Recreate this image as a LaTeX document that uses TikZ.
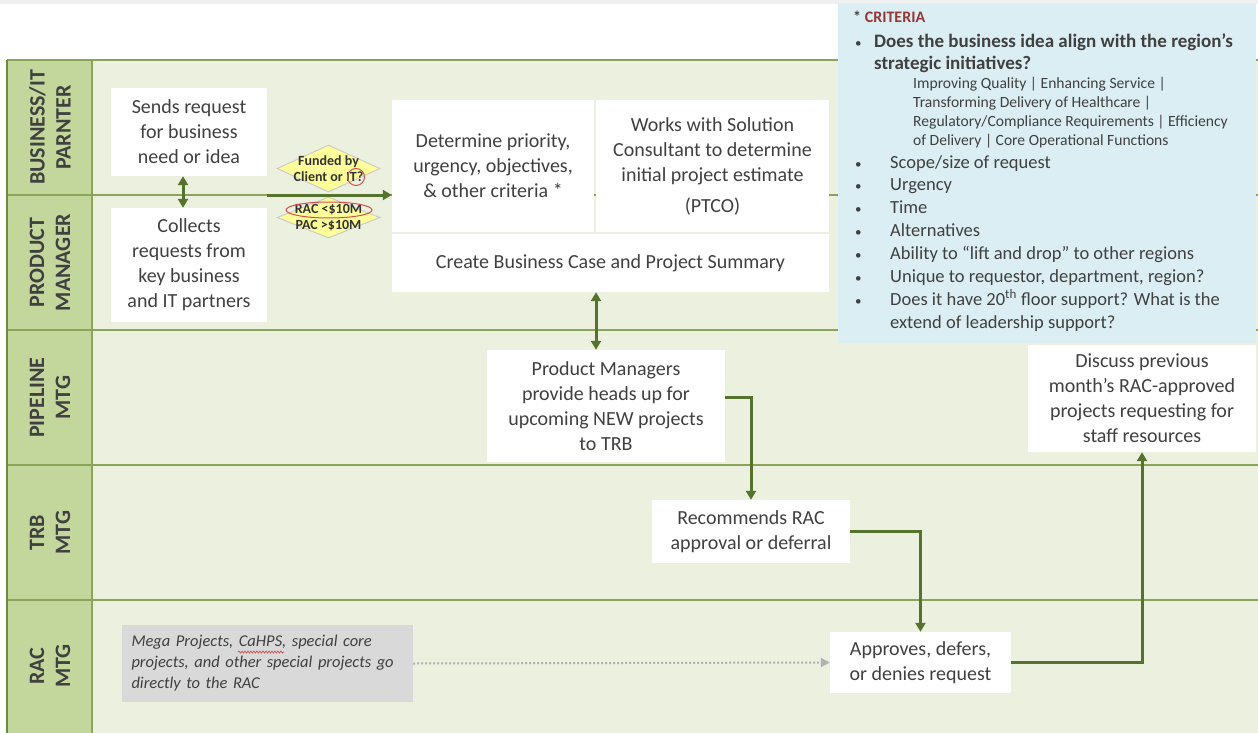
\documentclass[tikz,border=0pt]{standalone}
\usepackage{fontspec}
\setmainfont{Carlito}
\usetikzlibrary{arrows.meta,shapes.geometric,decorations.pathmorphing}
\definecolor{lanebg}{HTML}{EBF1DE}
\definecolor{labelbg}{HTML}{C3D69B}
\definecolor{laneline}{HTML}{8AA55A}
\definecolor{laneedge}{HTML}{6E8B3D}
\definecolor{flow}{HTML}{55732D}
\definecolor{txt}{HTML}{404040}
\definecolor{critbg}{HTML}{DBEEF3}
\definecolor{critred}{HTML}{953735}
\definecolor{notebg}{HTML}{D9D9D9}
\definecolor{diamfill}{HTML}{FFFF99}
\definecolor{markred}{HTML}{D0504D}
\begin{document}
\begin{tikzpicture}[x=1pt,y=-1pt,
  lanelabel/.style={rotate=90, align=center, inner sep=0, text=txt,
    font=\bfseries\fontsize{22}{26}\selectfont},
  stepbox/.style={fill=white, align=center, inner sep=0, text=txt,
    font=\fontsize{20}{25}\selectfont},
  notebox/.style={fill=notebg, align=left, inner sep=0, text=txt,
    text width=272pt, font=\itshape\fontsize{16.5}{21}\selectfont},
  diam/.style={diamond, fill=diamfill, draw=gray!40, line width=1pt, inner sep=0},
  diamtext/.style={align=center, inner sep=0, text=black!80,
    font=\bfseries\fontsize{14}{15.5}\selectfont},
  crit/.style={anchor=base west, inner sep=0, text=txt,
    font=\fontsize{18.5}{22}\selectfont},
  critdot/.style={anchor=base west, inner sep=0, text=txt,
    font=\fontsize{13}{22}\selectfont},
  critsmall/.style={anchor=base west, inner sep=0, text=txt,
    font=\fontsize{15.6}{17}\selectfont},
  flowarr/.style={draw=flow, line width=3pt, -{Triangle[length=9pt,width=10pt]}},
  biarr/.style={draw=flow, line width=3pt,
    {Triangle[length=9pt,width=10pt]}-{Triangle[length=9pt,width=10pt]}},
  dotarr/.style={draw=gray!60, line width=2pt, dotted,
    -{Triangle[length=9pt,width=9pt]}},
  redmark/.style={draw=markred, line width=1pt}]
\useasboundingbox (0,0) rectangle (1258,733);
\fill[white] (0,0) rectangle (1258,733);
\fill[gray!12] (0,0) rectangle (1258,4);

% swimlane frame
\fill[lanebg] (92,60) rectangle (1258,733);
\fill[labelbg] (7,60) rectangle (92,733);
\foreach \y in {60,195,330,465,600}
  \draw[laneline, line width=2pt] (7,\y) -- (1258,\y);
\draw[laneedge, line width=2.5pt] (7,60) -- (7,733);
\draw[laneline, line width=1.5pt] (92,60) -- (92,733);

% lane titles
\node[lanelabel] (lbiz) at (50,127.5) {BUSINESS/IT\\PARNTER};
\node[lanelabel] (lpm) at (50,262.5) {PRODUCT\\MANAGER};
\node[lanelabel] (lpipe) at (50,397.5) {PIPELINE\\MTG};
\node[lanelabel] (ltrb) at (50,532.5) {TRB\\MTG};
\node[lanelabel] (lrac) at (50,666) {RAC\\MTG};

% process steps
\node[stepbox, minimum width=156pt, minimum height=88pt] (send) at (189,132)
  {Sends request\\for business\\need or idea};
\node[stepbox, minimum width=156pt, minimum height=114pt] (collect) at (189,265)
  {Collects\\requests from\\key business\\and IT partners};
\node[stepbox, minimum width=202pt, minimum height=132pt] (determine) at (493,166)
  {Determine priority,\\urgency, objectives,\\\& other criteria *};
\node[stepbox, minimum width=233pt, minimum height=132pt] (works) at (712.5,166)
  {Works with Solution\\Consultant to determine\\initial project estimate\\[6pt](PTCO)};
\node[stepbox, minimum width=437pt, minimum height=58pt] (create) at (610.5,263)
  {Create Business Case and Project Summary};
\node[stepbox, minimum width=238pt, minimum height=112pt] (pipeline) at (606,406)
  {Product Managers\\provide heads up for\\upcoming NEW projects\\to TRB};
\node[stepbox, minimum width=198pt, minimum height=63pt] (recommend) at (751,531.5)
  {Recommends RAC\\approval or deferral};
\node[stepbox, minimum width=181pt, minimum height=61pt] (approves) at (920.5,662.5)
  {Approves, defers,\\or denies request};
\node[stepbox, minimum width=228pt, minimum height=107pt] (discuss) at (1142,398.5)
  {Discuss previous\\month’s RAC-approved\\projects requesting for\\staff resources};
\node[notebox, minimum width=291pt, minimum height=77pt] (note) at (267.5,663.5)
  {Mega Projects, CaHPS, special core projects, and other special projects go directly to the RAC};
\draw[decorate, decoration={snake, amplitude=1pt, segment length=3pt}, markred, line width=0.7pt]
  (238,652) -- (284,652);

% decision diamonds
\node[diam, minimum width=103pt, minimum height=47pt] (fund) at (328.5,168.5) {};
\node[diamtext] (fundtxt) at (fund) {Funded by\\Client or IT?};
\node[diam, minimum width=103pt, minimum height=41pt] (rac) at (328.5,217.5) {};
\node[diamtext] (ractxt) at (rac) {RAC <\$10M\\PAC >\$10M};
\draw[redmark] (356,177) ellipse [x radius=8.5pt, y radius=8.5pt];
\draw[redmark] (329,210) ellipse [x radius=43pt, y radius=8pt];

% connectors
\coordinate (fstart) at (267,195);
\draw[flowarr] (fstart) -- (fstart -| determine.west);
\draw[biarr] ([xshift=-6pt]send.south) -- ([xshift=-6pt]collect.north);
\draw[biarr] ([xshift=-10pt]pipeline.north |- create.south) -- ([xshift=-10pt]pipeline.north);
\draw[flowarr] ([yshift=9pt]pipeline.east) -| (recommend.north);
\draw[flowarr] (recommend.east) -| (approves.north);
\draw[flowarr] (approves.east) -| (discuss.south);
\draw[dotarr] (note.east) -- (approves.west);

% criteria panel
\fill[critbg] (838,3) rectangle (1256,343);
\node[crit, font=\bfseries\fontsize{16}{20}\selectfont] (ctitle) at (853,23)
  {* \textcolor{critred}{CRITERIA}};
\node[critdot] (cb1) at (855,48) {•};
\node[crit, font=\bfseries\fontsize{19}{22}\selectfont] (c1a) at (874,48)
  {Does the business idea align with the region’s};
\node[crit, font=\bfseries\fontsize{19}{22}\selectfont] (c1b) at (874,70)
  {strategic initiatives?};
\node[critsmall] (s1) at (913,89) {Improving Quality | Enhancing Service |};
\node[critsmall] (s2) at (913,108) {Transforming Delivery of Healthcare |};
\node[critsmall] (s3) at (913,127) {Regulatory/Compliance Requirements | Efficiency};
\node[critsmall] (s4) at (913,146) {of Delivery | Core Operational Functions};
\foreach \yy/\tt [count=\i] in {168/Scope\slash size of request, 190/Urgency, 213/Time,
    236/Alternatives, 259/Ability to “lift and drop” to other regions,
    282/{Unique to requestor, department, region?},
    305/Does it have 20\textsuperscript{th} floor support? What is the} {
  \node[critdot] (cb\i) at (855,\yy) {•};
  \node[crit] (ci\i) at (890,\yy) {\tt};
}
\node[crit] (clast) at (890,328) {extend of leadership support?};
\end{tikzpicture}
\end{document}
